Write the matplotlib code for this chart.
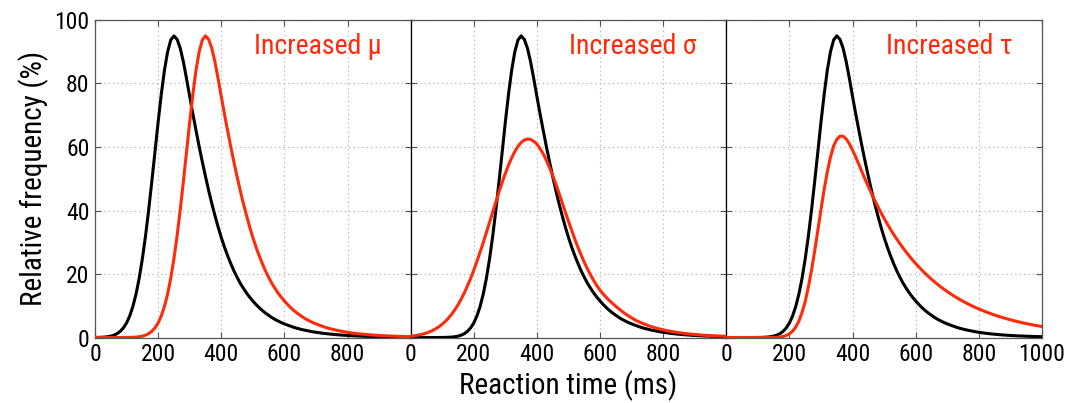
import matplotlib
matplotlib.use("Agg")
import matplotlib.pyplot as plt
from matplotlib import font_manager

names = {f.name for f in font_manager.fontManager.ttflist}
cands = ['Liberation Sans Narrow', 'Roboto Condensed', 'Open Sans Condensed', 'DejaVu Sans Condensed']
found = [c for c in cands if c in names]
plt.rcParams['font.family'] = found + ['Liberation Sans', 'DejaVu Sans']

# reaction time grid (ms), one sample every 10 ms
rt_ms = list(range(0, 1001, 10))

# baseline distribution (panel 1, black)
baseline = [0.02, 0.04, 0.08, 0.14, 0.25, 0.44, 0.74, 1.22, 1.96, 3.05,
            4.6, 6.8, 9.8, 13.7, 18.7, 24.8, 32.0, 40.2, 49.2, 58.5,
            67.9, 76.6, 84.2, 90.0, 93.7, 95.0, 93.9, 91.1, 86.8, 81.5,
            75.9, 70.4, 65.2, 60.1, 55.3, 50.7, 46.3, 42.2, 38.4, 34.8,
            31.5, 28.5, 25.8, 23.3, 21.0, 19.0, 17.1, 15.5, 14.0, 12.7,
            11.5, 10.4, 9.4, 8.5, 7.7, 7.0, 6.3, 5.7, 5.2, 4.7,
            4.3, 3.9, 3.55, 3.2, 2.9, 2.65, 2.4, 2.2, 2.0, 1.8,
            1.65, 1.5, 1.36, 1.24, 1.13, 1.03, 0.94, 0.86, 0.78, 0.71,
            0.65, 0.59, 0.54, 0.49, 0.45, 0.41, 0.37, 0.34, 0.31, 0.28,
            0.26, 0.24, 0.22, 0.20, 0.18, 0.16, 0.15, 0.14, 0.13, 0.12,
            0.11]

# increased mu (panel 1 red) == baseline of panels 2 and 3 (black)
inc_mu = [0.0, 0.0, 0.0, 0.0, 0.0, 0.0, 0.0, 0.0, 0.0, 0.01,
          0.02, 0.04, 0.08, 0.14, 0.25, 0.44, 0.74, 1.22, 1.96, 3.05,
          4.6, 6.8, 9.8, 13.7, 18.7, 24.8, 32.0, 40.2, 49.2, 58.5,
          67.9, 76.6, 84.2, 90.0, 93.7, 95.0, 93.9, 91.1, 86.8, 81.5,
          75.9, 70.4, 65.2, 60.1, 55.3, 50.7, 46.3, 42.2, 38.4, 34.8,
          31.5, 28.5, 25.8, 23.3, 21.0, 19.0, 17.1, 15.5, 14.0, 12.7,
          11.5, 10.4, 9.4, 8.5, 7.7, 7.0, 6.3, 5.7, 5.2, 4.7,
          4.3, 3.9, 3.55, 3.2, 2.9, 2.65, 2.4, 2.2, 2.0, 1.8,
          1.65, 1.5, 1.36, 1.24, 1.13, 1.03, 0.94, 0.86, 0.78, 0.71,
          0.65, 0.59, 0.54, 0.49, 0.45, 0.41, 0.37, 0.34, 0.31, 0.28,
          0.26]

# increased sigma (panel 2 red)
inc_sigma = [0.40, 0.52, 0.68, 0.87, 1.12, 1.42, 1.79, 2.23, 2.78, 3.42,
             4.19, 5.10, 6.15, 7.36, 8.75, 10.3, 12.1, 14.1, 16.3, 18.6,
             21.2, 24.0, 26.9, 29.9, 33.1, 36.3, 39.5, 42.7, 45.9, 48.9,
             51.7, 54.3, 56.6, 58.6, 60.2, 61.4, 62.2, 62.5, 62.4, 61.8,
             60.9, 59.5, 57.8, 55.8, 53.5, 51.0, 48.3, 45.5, 42.5, 39.5,
             36.6, 33.8, 31.0, 28.4, 26.0, 23.7, 21.6, 19.7, 17.9, 16.3,
             14.9, 13.7, 12.6, 11.6, 10.7, 9.8, 9.0, 8.2, 7.5, 6.8,
             6.2, 5.6, 5.1, 4.65, 4.25, 3.85, 3.5, 3.2, 2.9, 2.65,
             2.4, 2.2, 2.0, 1.85, 1.67, 1.53, 1.39, 1.27, 1.15, 1.06,
             0.96, 0.88, 0.79, 0.72, 0.65, 0.60, 0.54, 0.50, 0.46, 0.42,
             0.38]

# increased tau (panel 3 red)
inc_tau = [0.0, 0.0, 0.0, 0.0, 0.0, 0.0, 0.0, 0.0, 0.0, 0.0,
           0.0, 0.0, 0.0, 0.0, 0.0, 0.04, 0.08, 0.17, 0.34, 0.64,
           1.16, 2.0, 3.3, 5.2, 7.9, 11.4, 15.9, 21.2, 27.3, 33.8,
           40.4, 46.6, 52.2, 56.8, 60.3, 62.4, 63.4, 63.4, 62.5, 61.0,
           59.0, 56.8, 54.5, 52.1, 49.8, 47.5, 45.35, 43.25, 41.24, 39.33,
           37.5, 35.76, 34.09, 32.51, 31.0, 29.56, 28.18, 26.87, 25.62, 24.43,
           23.29, 22.21, 21.18, 20.19, 19.25, 18.36, 17.5, 16.69, 15.91, 15.17,
           14.47, 13.8, 13.15, 12.54, 11.96, 11.4, 10.87, 10.37, 9.88, 9.42,
           8.99, 8.57, 8.17, 7.79, 7.43, 7.08, 6.75, 6.44, 6.14, 5.85,
           5.58, 5.32, 5.07, 4.84, 4.61, 4.4, 4.19, 4.0, 3.81, 3.63,
           3.46]

panel_labels = ["Increased \u03bc", "Increased \u03c3", "Increased \u03c4"]
black_series = [baseline, inc_mu, inc_mu]
red_series = [inc_mu, inc_sigma, inc_tau]

xticks_main = [0, 200, 400, 600, 800]
xticks_last = [0, 200, 400, 600, 800, 1000]
yticks = [0, 20, 40, 60, 80, 100]

RED = '#ff2a0a'
narrow = len(found) > 0
tick_fs = 17 if narrow else 15.5
lab_fs = 21 if narrow else 19
txt_fs = 20 if narrow else 17.5

fig = plt.figure(figsize=(10.7, 4.03), dpi=100)
fig.subplots_adjust(left=0.0888, right=0.9738, bottom=0.1625, top=0.9504, wspace=0)
axes = fig.subplots(1, 3, sharey=True)

for i, ax in enumerate(axes):
    ax.plot(rt_ms, black_series[i], color='black', lw=2.2, solid_capstyle='round', zorder=3)
    ax.plot(rt_ms, red_series[i], color=RED, lw=2.2, solid_capstyle='round', zorder=4)
    ax.set_xlim(0, 1000)
    ax.set_ylim(0, 100)
    ax.set_xticks(xticks_last if i == 2 else xticks_main)
    ax.set_yticks(yticks)
    ax.grid(True, color='#b5b5b5', linestyle=(0, (1, 2.5)), lw=0.9)
    ax.set_axisbelow(True)
    ax.tick_params(direction='in', length=4, width=0.8, top=True, right=True,
                   labelsize=tick_fs, color='#555555', pad=4)
    for s in ax.spines.values():
        s.set_color('#555555')
        s.set_linewidth(0.9)
    ax.text(705, 91.5, panel_labels[i], color=RED, fontsize=txt_fs,
            ha='center', va='center', zorder=5)
    if i > 0:
        ax.tick_params(labelleft=False)
        ax.spines['left'].set_color('black')

axes[0].set_ylabel('Relative frequency (%)', fontsize=lab_fs, labelpad=4)
fig.text((0.0888 + 0.9738) / 2, 0.004, 'Reaction time (ms)', ha='center', va='bottom', fontsize=lab_fs)

fig.savefig('out.png', dpi=100)
